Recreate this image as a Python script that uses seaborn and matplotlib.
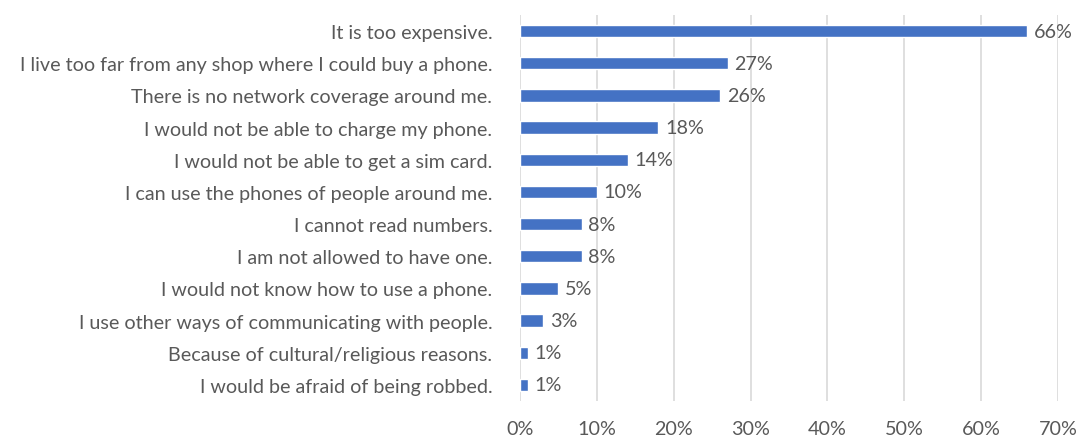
import matplotlib
matplotlib.use("Agg")
import matplotlib.pyplot as plt
import seaborn as sns
import pandas as pd
from matplotlib.ticker import FuncFormatter

categories = [
    "It is too expensive.",
    "I live too far from any shop where I could buy a phone.",
    "There is no network coverage around me.",
    "I would not be able to charge my phone.",
    "I would not be able to get a sim card.",
    "I can use the phones of people around me.",
    "I cannot read numbers.",
    "I am not allowed to have one.",
    "I would not know how to use a phone.",
    "I use other ways of communicating with people.",
    "Because of cultural/religious reasons.",
    "I would be afraid of being robbed.",
]
values = [66, 27, 26, 18, 14, 10, 8, 8, 5, 3, 1, 1]
x_ticks = [0, 10, 20, 30, 40, 50, 60, 70]

df = pd.DataFrame({"reason": categories, "pct": values})

sns.set_theme(style="white")
plt.rcParams["font.family"] = ["Lato", "DejaVu Sans"]

text_color = "#595959"
fig = plt.figure(figsize=(10.78, 4.39), dpi=100)
ax = fig.add_axes([0.4824, 0.0843, 0.4990, 0.8793])

sns.barplot(data=df, x="pct", y="reason", color="#4472C4", saturation=1,
            width=0.38, ax=ax, orient="h")

ax.set_xlim(0, 70)
ax.set_xticks(x_ticks)
ax.xaxis.set_major_formatter(FuncFormatter(lambda v, p: f"{v:.0f}%"))
ax.grid(axis="x", color="#D9D9D9", linewidth=1.2)
ax.set_axisbelow(True)
for s in ax.spines.values():
    s.set_visible(False)
ax.set_xlabel("")
ax.set_ylabel("")
ax.tick_params(axis="y", length=0, pad=20, labelsize=14.2, labelcolor=text_color)
ax.tick_params(axis="x", length=0, pad=14, labelsize=14.2, labelcolor=text_color)

for i, v in enumerate(values):
    ax.text(v + 0.9, i, f"{v}%", va="center", ha="left", fontsize=14.2, color=text_color)

fig.savefig("out.png", dpi=100)
